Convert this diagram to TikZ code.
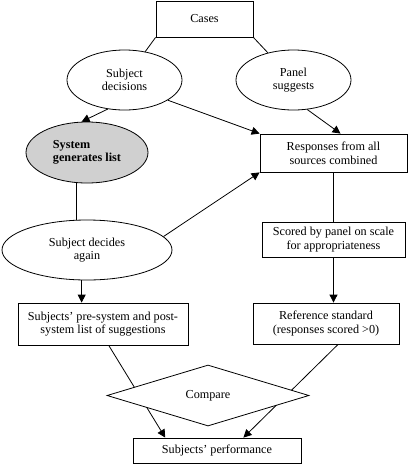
\documentclass[tikz,border=0pt]{standalone}
\usepackage{fontspec}
\setmainfont{Liberation Serif}
\usetikzlibrary{shapes.geometric,arrows.meta,backgrounds}

\tikzset{
  box/.style={draw, rectangle, inner sep=0pt, align=center},
  oval/.style={draw, ellipse, inner sep=0pt, align=center},
  flow/.style={line width=0.8pt, -{Triangle[length=8pt,width=8pt]}},
}

\begin{document}
\begin{tikzpicture}[x=1pt, y=-1pt, font=\fontsize{12.2}{13.6}\selectfont, line width=0.8pt]
\useasboundingbox (0, 0) rectangle (409, 464);
\node[box, minimum width=97pt, minimum height=36pt] (cases) at (204.5, 19) {Cases};
\node[oval, minimum width=115pt, minimum height=60pt] (subjdec) at (124.5, 80) {Subject\\decisions};
\node[oval, minimum width=115pt, minimum height=60pt] (panel) at (293.5, 80) {Panel\\suggests};
\node[oval, fill={rgb,255:red,208;green,208;blue,208}, minimum width=122pt, minimum height=61pt, align=left, font=\fontsize{12.2}{13.6}\selectfont\bfseries] (system) at (87, 152.5) {System\\generates list};
\node[box, minimum width=147pt, minimum height=38pt] (responses) at (333.5, 153) {Responses from all\\sources combined};
\node[oval, minimum width=170pt, minimum height=60pt] (again) at (87, 250) {Subject decides\\again};
\node[box, minimum width=143pt, minimum height=35pt] (scored) at (333.5, 239.5) {Scored by panel on scale\\for appropriateness};
\node[box, minimum width=170pt, minimum height=42pt] (list) at (103, 324) {Subjects’ pre-system and post-\\system list of suggestions};
\node[box, minimum width=146pt, minimum height=41pt] (refstd) at (326, 323.5) {Reference standard\\(responses scored >0)};
\node[draw, diamond, fill=white, inner sep=0pt, minimum width=202pt, minimum height=61pt] (compare) at (208, 395.5) {Compare};
\node[box, minimum width=168pt, minimum height=25pt] (perf) at (217, 450.5) {Subjects’ performance};

% top part
\draw (cases.south west) -- (subjdec);
\draw (cases.south east) -- (panel);
\draw[flow] (subjdec.-120) -- (system.100);
\draw[flow] (subjdec.-25) -- (responses.north west);
\draw[flow] (panel.-65) -- (responses.70);
\draw (system.-110) -- (system.-110 |- again.north);
\draw[flow] (again.10) -- (responses.south west);
\draw[flow] (again.-100) -- (again.-100 |- list.north);
\draw (responses.south) -- (scored.north);
\draw[flow] (scored.south) -- (scored.south |- refstd.north);
% through the diamond
\begin{pgfonlayer}{background}
\draw[flow] (list.-75) -- (perf.166);
\draw[flow] (refstd.-60) -- (perf.26);
\end{pgfonlayer}
\end{tikzpicture}
\end{document}
